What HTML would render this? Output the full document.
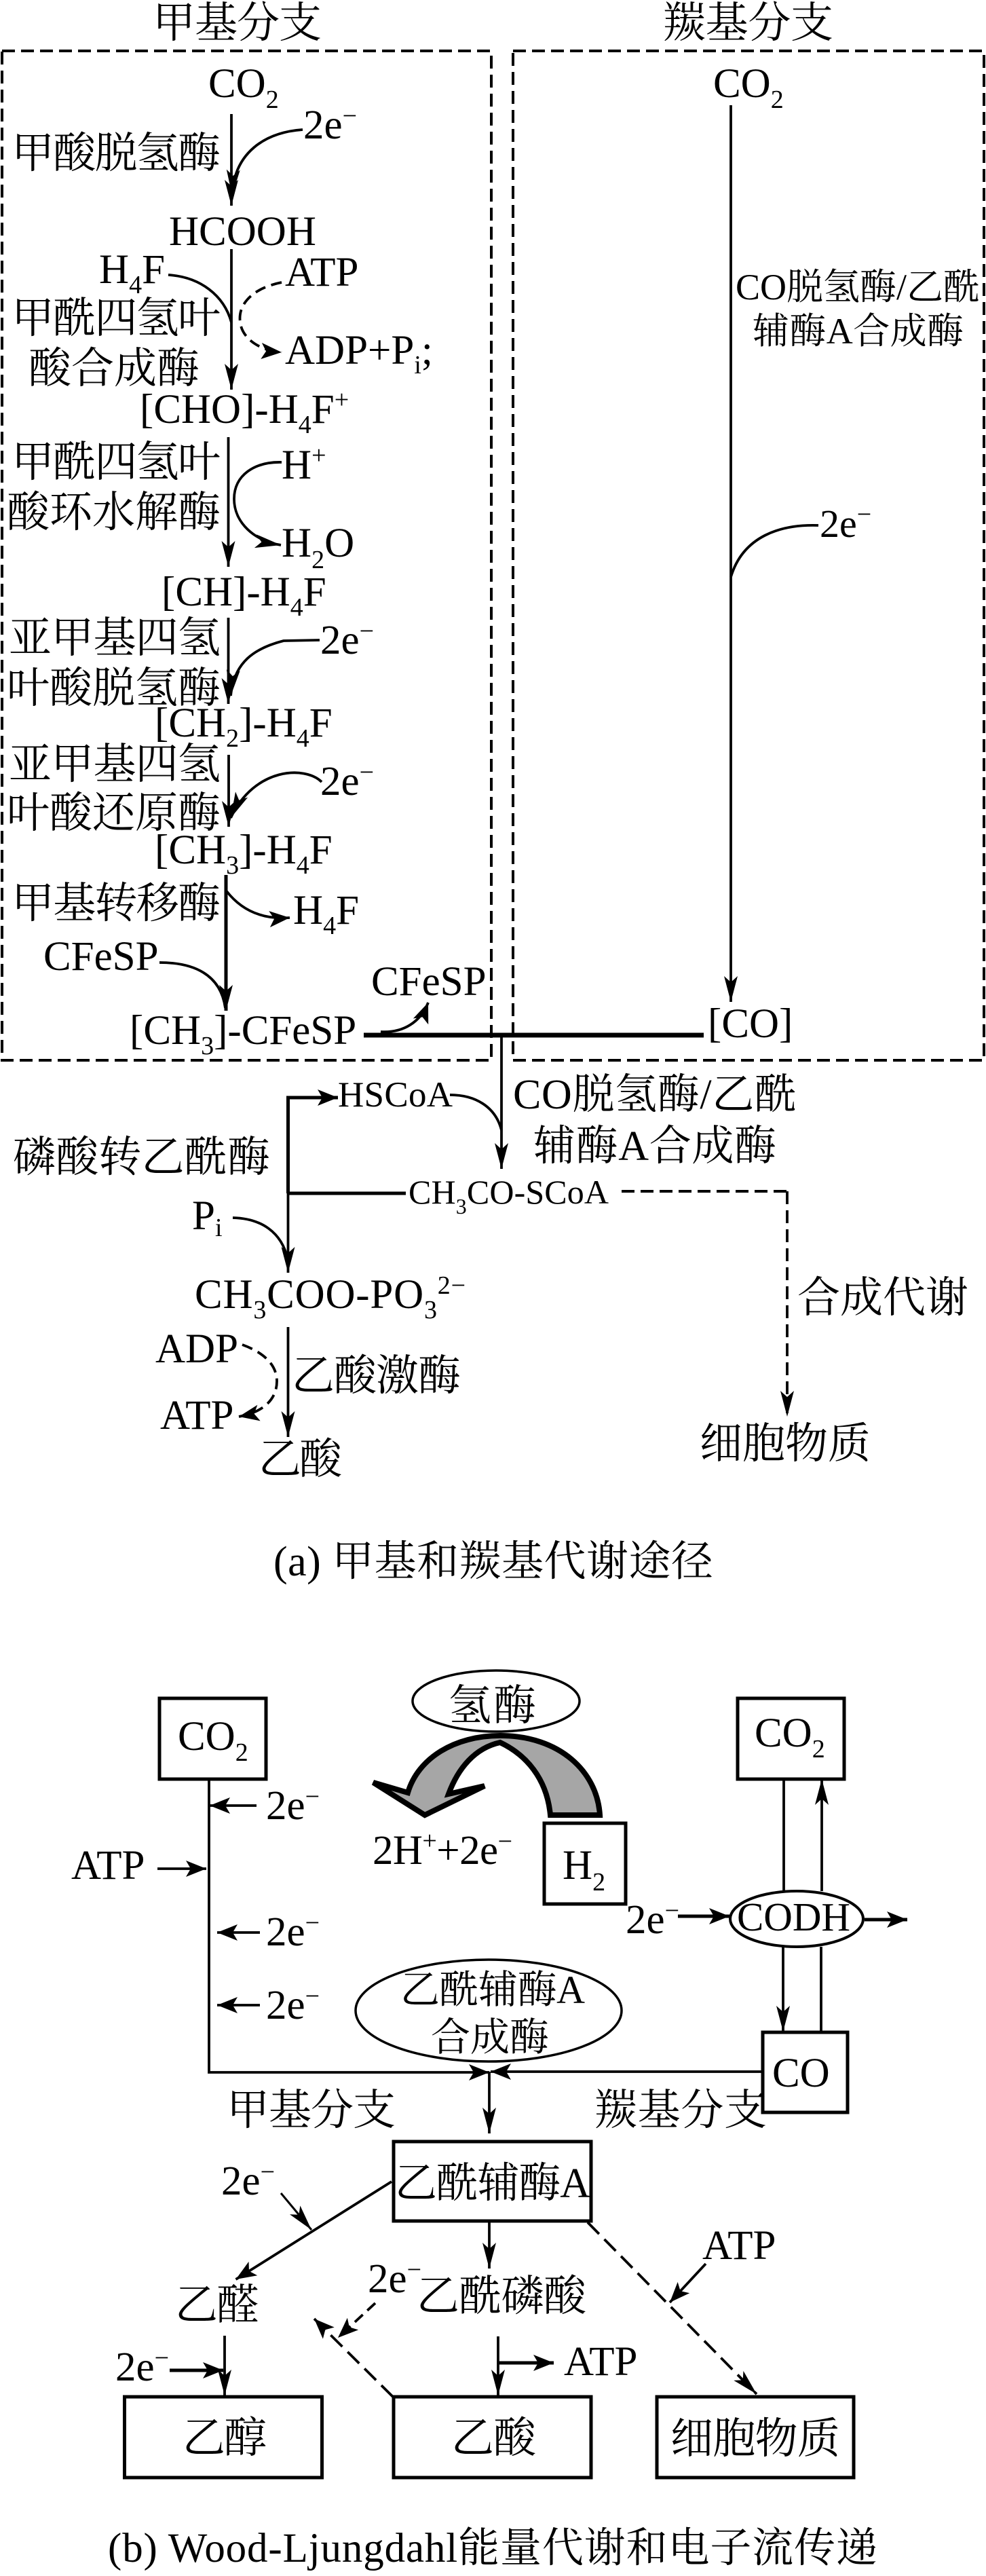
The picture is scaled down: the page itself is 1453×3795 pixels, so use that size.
<!DOCTYPE html>
<html><head><meta charset="utf-8">
<style>
html,body{margin:0;padding:0;background:#fff}
svg{display:block}
text{font-family:"Liberation Serif","Noto Serif CJK SC",serif;font-size:61px;fill:#000}
.s{font-size:38px}
.h{font-size:63px}
.l{fill:none;stroke:#000;stroke-width:3.8}
.t{fill:none;stroke:#000;stroke-width:5}
.d{fill:none;stroke:#000;stroke-width:4;stroke-dasharray:19 9}
.b{fill:#fff;stroke:#000;stroke-width:5}
</style></head><body>
<svg width="1453" height="3795" viewBox="0 0 1453 3795" xmlns="http://www.w3.org/2000/svg">
<defs>
<marker id="a" markerUnits="userSpaceOnUse" markerWidth="40" markerHeight="22" refX="38" refY="11" orient="auto"><path d="M0 1L38 11L0 21L9 11Z" fill="#000"/></marker>
<marker id="b" markerUnits="userSpaceOnUse" markerWidth="32" markerHeight="26" refX="30" refY="13" orient="auto"><path d="M0 1L30 13L0 25L7 13Z" fill="#000"/></marker>
</defs>
<!-- dashed frames -->
<rect x="3" y="75" width="721" height="1487" class="d"/>
<rect x="756" y="75" width="694" height="1487" class="d"/>
<text class="h" x="225" y="55" textLength="249">甲基分支</text>
<text class="h" x="977" y="55" textLength="251">羰基分支</text>

<!-- left column -->
<text x="307" y="143">CO<tspan class="s" dy="16">2</tspan></text>
<path class="l" d="M341 168V303" marker-end="url(#a)"/>
<path class="l" d="M446 191C390 195 345 225 342 288" marker-end="url(#a)"/>
<text x="447" y="204">2e<tspan class="s" dy="-21">−</tspan></text>
<text class="h" x="17" y="247" textLength="308">甲酸脱氢酶</text>
<text x="249" y="361">HCOOH</text>
<text x="146" y="417">H<tspan class="s" dy="15">4</tspan><tspan dy="-15">F</tspan></text>
<text x="420" y="421">ATP</text>
<path class="l" d="M341 367V574" marker-end="url(#a)"/>
<path class="l" d="M248 405C295 408 330 435 341 475"/>
<path class="l" stroke-dasharray="16 9" d="M415 416C370 425 350 450 354 475C357 500 385 517 415 519" marker-end="url(#b)"/>
<text class="h" x="17" y="490" textLength="308">甲酰四氢叶</text>
<text class="h" x="42" y="564" textLength="252">酸合成酶</text>
<text x="420" y="536">ADP+P<tspan class="s" dy="14">i</tspan><tspan dy="-14">;</tspan></text>
<text x="206" y="623">[CHO]-H<tspan class="s" dy="15">4</tspan><tspan dy="-15">F</tspan><tspan class="s" dy="-22">+</tspan></text>
<text class="h" x="17" y="702" textLength="308">甲酰四氢叶</text>
<text class="h" x="10" y="776" textLength="315">酸环水解酶</text>
<path class="l" d="M336.5 644V835" marker-end="url(#a)"/>
<text x="415" y="705">H<tspan class="s" dy="-22">+</tspan></text>
<path class="l" d="M415 681C375 680 345 700 345 735C345 770 375 797 414 803" marker-end="url(#a)"/>
<text x="415" y="820">H<tspan class="s" dy="17">2</tspan><tspan dy="-17">O</tspan></text>
<text x="238" y="892">[CH]-H<tspan class="s" dy="15">4</tspan><tspan dy="-15">F</tspan></text>
<text class="h" x="13" y="961" textLength="312">亚甲基四氢</text>
<text class="h" x="10" y="1035" textLength="315">叶酸脱氢酶</text>
<path class="l" d="M336.5 910V1037" marker-end="url(#a)"/>
<text x="472" y="963">2e<tspan class="s" dy="-21">−</tspan></text>
<path class="l" d="M471 943L418 944C375 955 345 975 340 1025" marker-end="url(#a)"/>
<text x="228" y="1085">[CH<tspan class="s" dy="15">2</tspan><tspan dy="-15">]-H</tspan><tspan class="s" dy="15">4</tspan><tspan dy="-15">F</tspan></text>
<text class="h" x="13" y="1147" textLength="312">亚甲基四氢</text>
<text class="h" x="10" y="1219" textLength="315">叶酸还原酶</text>
<path class="l" d="M337 1112V1218" marker-end="url(#a)"/>
<text x="472" y="1171">2e<tspan class="s" dy="-21">−</tspan></text>
<path class="l" d="M474 1152C450 1128 375 1130 340 1205" marker-end="url(#a)"/>
<text x="228" y="1272">[CH<tspan class="s" dy="15">3</tspan><tspan dy="-15">]-H</tspan><tspan class="s" dy="15">4</tspan><tspan dy="-15">F</tspan></text>
<text class="h" x="17" y="1352" textLength="308">甲基转移酶</text>
<path class="t" d="M333 1289V1489" marker-end="url(#a)"/>
<path class="l" d="M334 1313C355 1340 385 1355 427 1352" marker-end="url(#b)"/>
<text x="432" y="1361">H<tspan class="s" dy="15">4</tspan><tspan dy="-15">F</tspan></text>
<text x="64" y="1429">CFeSP</text>
<path class="l" d="M235 1418C285 1418 325 1435 332 1485"/>
<text x="547" y="1466">CFeSP</text>
<text x="191" y="1538">[CH<tspan class="s" dy="15">3</tspan><tspan dy="-15">]-CFeSP</tspan></text>
<path class="l" d="M561 1520C595 1522 620 1505 631 1477" marker-end="url(#b)"/>

<!-- right column -->
<text x="1051" y="143">CO<tspan class="s" dy="16">2</tspan></text>
<path class="l" d="M1077 155V1476" marker-end="url(#a)"/>
<text x="1084" y="441" textLength="360" style="font-size:54px">CO脱氢酶/乙酰</text>
<text x="1109" y="506" textLength="311" style="font-size:54px">辅酶A合成酶</text>
<text x="1208" y="791" style="font-size:58px">2e<tspan class="s" dy="-21">−</tspan></text>
<path class="l" d="M1206 774C1150 772 1095 790 1077 850"/>
<text x="1043" y="1528">[CO]</text>
<path d="M536 1525H1037" stroke="#000" stroke-width="7" fill="none"/>

<!-- merge -->
<path class="l" d="M739 1525V1722" marker-end="url(#a)"/>
<text x="498" y="1630" textLength="169" style="font-size:53px">HSCoA</text>
<path class="t" d="M424.5 1758V1617H498" marker-end="url(#b)"/>
<path class="l" d="M663 1613C700 1613 730 1630 739 1665"/>
<text x="756" y="1633" textLength="418" style="font-size:62px">CO脱氢酶/乙酰</text>
<text x="786" y="1709" textLength="358" style="font-size:62px">辅酶A合成酶</text>
<text class="h" x="19" y="1726" textLength="379">磷酸转乙酰酶</text>
<text x="283" y="1811">P<tspan class="s" dy="10">i</tspan></text>
<path class="t" d="M424.5 1758H598"/>
<text x="602" y="1773" textLength="295" style="font-size:50px">CH<tspan class="s" dy="15" style="font-size:32px">3</tspan><tspan dy="-15">CO-SCoA</tspan></text>
<path class="d" d="M916 1755H1160"/>
<path class="l" stroke-dasharray="19 9" d="M1160 1755V2087" marker-end="url(#a)"/>
<path class="l" d="M424.5 1617V1875" marker-end="url(#a)"/>
<path class="l" d="M343 1794C385 1795 415 1815 424 1855"/>
<text x="287" y="1927" textLength="399">CH<tspan class="s" dy="15">3</tspan><tspan dy="-15">COO-PO</tspan><tspan class="s" dy="15">3</tspan><tspan class="s" dy="-36">2−</tspan></text>
<text class="h" x="1175" y="1933" textLength="252">合成代谢</text>
<path class="l" d="M424.5 1955V2117" marker-end="url(#a)"/>
<text x="229" y="2007">ADP</text>
<text x="236" y="2105">ATP</text>
<path class="l" stroke-dasharray="16 9" d="M357 1981C395 1995 408 2015 408 2035C408 2060 390 2080 352 2087" marker-end="url(#b)"/>
<text class="h" x="430" y="2048" textLength="249">乙酸激酶</text>
<text class="h" x="381" y="2171" textLength="123">乙酸</text>
<text class="h" x="1031" y="2148" textLength="252">细胞物质</text>
<text x="403" y="2321" textLength="648" style="font-size:62px">(a) 甲基和羰基代谢途径</text>

<!-- panel b -->
<rect x="235" y="2502" width="157" height="119" class="b"/>
<text x="262" y="2578">CO<tspan class="s" dy="16">2</tspan></text>
<path class="l" d="M308 2621V3053H721" marker-end="url(#b)"/>
<path class="l" d="M378 2660H309" marker-end="url(#b)"/>
<text x="392" y="2680">2e<tspan class="s" dy="-21">−</tspan></text>
<text x="105" y="2768">ATP</text>
<path class="l" d="M232 2753H304" marker-end="url(#b)"/>
<path class="l" d="M383 2847H320" marker-end="url(#b)"/>
<text x="392" y="2866">2e<tspan class="s" dy="-21">−</tspan></text>
<path class="l" d="M383 2954H320" marker-end="url(#b)"/>
<text x="392" y="2974">2e<tspan class="s" dy="-21">−</tspan></text>

<ellipse cx="731" cy="2506" rx="123" ry="45" fill="#fff" stroke="#000" stroke-width="3.5"/>
<text class="h" x="661" y="2534" textLength="129">氢酶</text>
<path d="M884 2674C880 2610 825 2557 737 2557C670 2557 616 2590 601 2641L550 2626L626 2674L714 2631L661 2643C675 2605 700 2575 737 2567C775 2585 806 2620 811 2674Z" fill="#a6a6a6" stroke="#000" stroke-width="8" stroke-linejoin="miter"/>
<text x="549" y="2746" textLength="206">2H<tspan class="s" dy="-22">+</tspan><tspan dy="22">+2e</tspan><tspan class="s" dy="-21">−</tspan></text>
<rect x="802" y="2686" width="120" height="119" class="b"/>
<text x="829" y="2768">H<tspan class="s" dy="17">2</tspan></text>

<rect x="1087" y="2502" width="157" height="119" class="b"/>
<text x="1112" y="2573">CO<tspan class="s" dy="16">2</tspan></text>
<path class="l" d="M1155 2621V2786"/>
<path class="l" d="M1211 2786V2621" marker-end="url(#a)"/>
<ellipse cx="1174" cy="2827" rx="98" ry="41" fill="#fff" stroke="#000" stroke-width="4"/>
<text x="1086" y="2844" textLength="167" style="font-size:59px">CODH</text>
<text x="922" y="2848">2e<tspan class="s" dy="-21">−</tspan></text>
<path class="t" d="M999 2823H1075" marker-end="url(#b)"/>
<path class="t" d="M1274 2828H1337" marker-end="url(#b)"/>
<path class="l" d="M1154 2868V2993" marker-end="url(#a)"/>
<path class="l" d="M1210 2868V2994"/>
<ellipse cx="720" cy="2962" rx="196" ry="75" fill="#fff" stroke="#000" stroke-width="3.5"/>
<text x="590" y="2951" textLength="272" style="font-size:58px">乙酰辅酶A</text>
<text x="635" y="3021" textLength="174" style="font-size:58px">合成酶</text>
<rect x="1124" y="2994" width="125" height="118" class="b"/>
<text x="1138" y="3074">CO</text>
<path class="l" d="M1124 3052H723" marker-end="url(#b)"/>
<path class="l" d="M721 3052V3143" marker-end="url(#a)"/>
<text class="h" x="334" y="3130" textLength="249">甲基分支</text>
<text class="h" x="876" y="3130" textLength="254">羰基分支</text>
<rect x="580" y="3155" width="291" height="117" class="b"/>
<text x="582" y="3237" textLength="288" style="font-size:62px">乙酰辅酶A</text>
<text x="326" y="3233">2e<tspan class="s" dy="-21">−</tspan></text>
<path class="l" d="M577 3214L347.5 3358" marker-end="url(#b)"/>
<path class="l" d="M414 3231L459 3285" marker-end="url(#a)" style="stroke-width:3"/>
<path class="l" d="M721 3272V3342" marker-end="url(#a)"/>
<text x="542" y="3377">2e<tspan class="s" dy="-21">−</tspan></text>
<text class="h" x="614" y="3404" textLength="250">乙酰磷酸</text>
<text class="h" x="258" y="3417" textLength="124">乙醛</text>
<path class="l" stroke-dasharray="16 9" d="M553 3393L498 3444" marker-end="url(#b)"/>
<path class="l" stroke-dasharray="24 11" d="M579 3531L463 3416" marker-end="url(#b)"/>
<path class="l" stroke-dasharray="24 11" d="M866 3274L1115 3527" marker-end="url(#a)"/>
<text x="1035" y="3328">ATP</text>
<path class="l" d="M1040 3335L987 3392" marker-end="url(#b)"/>
<path class="l" d="M331 3441V3529" marker-end="url(#a)"/>
<text x="170" y="3507">2e<tspan class="s" dy="-21">−</tspan></text>
<path class="t" d="M250 3492H329" marker-end="url(#b)"/>
<path class="l" d="M734 3442V3529" marker-end="url(#a)"/>
<path class="t" d="M734 3481H816" marker-end="url(#b)"/>
<text x="831" y="3499">ATP</text>
<rect x="183.5" y="3531" width="291" height="119" class="b"/>
<rect x="580" y="3531" width="291" height="119" class="b"/>
<rect x="968" y="3531" width="290" height="119" class="b"/>
<text class="h" x="269" y="3613" textLength="124">乙醇</text>
<text class="h" x="665" y="3613" textLength="125">乙酸</text>
<text class="h" x="988" y="3614" textLength="250">细胞物质</text>
<text x="159" y="3774" textLength="1134">(b) Wood-Ljungdahl能量代谢和电子流传递</text>
</svg>
</body></html>
